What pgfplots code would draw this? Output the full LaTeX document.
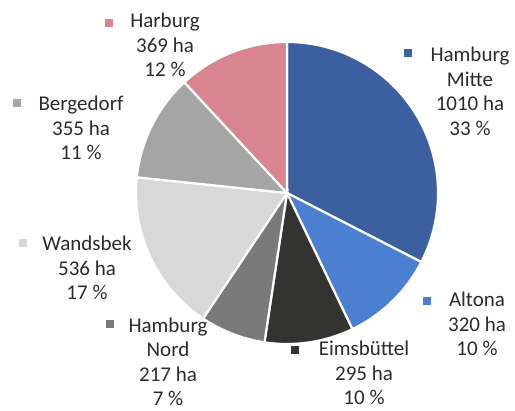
\documentclass[border=0pt]{standalone}
\usepackage{pgfplots}
\usepackage{pgfplotstable}
\pgfplotsset{compat=1.18}
\usepackage{fontspec}
\setmainfont{Carlito}
\definecolor{cMitte}{HTML}{3C5FA0}
\definecolor{cAltona}{HTML}{4A7FD2}
\definecolor{cEims}{HTML}{333331}
\definecolor{cNord}{HTML}{7A7A7A}
\definecolor{cWands}{HTML}{D8D8D8}
\definecolor{cBerg}{HTML}{A5A5A5}
\definecolor{cHarb}{HTML}{D8858F}
\definecolor{txt}{HTML}{2B2B2B}
\tikzset{lbl/.style={font=\fontsize{21bp}{24.5bp}\selectfont, text=txt, align=center, inner sep=0pt}}
\pgfplotstableread{
name value
Mitte 1010
Altona 320
Eimsbuettel 295
Nord 217
Wandsbek 536
Bergedorf 355
Harburg 369
}\datatable
\begin{document}
\begin{tikzpicture}
% cumulative angles from the data
\def\total{0}
\pgfplotsforeachungrouped \i in {0,...,6}{%
  \pgfplotstablegetelem{\i}{value}\of\datatable
  \pgfmathsetmacro\total{\total+\pgfplotsretval}}
\expandafter\xdef\csname ang0\endcsname{90}
\def\cur{90}
\pgfplotsforeachungrouped \i in {0,...,6}{%
  \pgfplotstablegetelem{\i}{value}\of\datatable
  \pgfmathsetmacro\frac{\pgfplotsretval/\total}
  \pgfmathsetmacro\cur{\cur-360*\frac}
  \pgfmathtruncatemacro\j{\i+1}
  \expandafter\xdef\csname ang\j\endcsname{\cur}}
\def\A#1{\csname ang#1\endcsname}
\def\R{151bp}
\begin{axis}[
  x=1bp, y=1bp,
  xmin=0, xmax=515, ymin=0, ymax=410,
  hide axis, clip=false,
]
\coordinate (ll) at (axis cs:0,0);
\coordinate (ur) at (axis cs:515,410);
\addplot[fill=cMitte, draw=white, line width=2.2bp] coordinates {(287,217)} -- ++(\A0:\R) arc[start angle=\A0, end angle=\A1, radius=\R] -- cycle;
\addplot[fill=cAltona, draw=white, line width=2.2bp] coordinates {(287,217)} -- ++(\A1:\R) arc[start angle=\A1, end angle=\A2, radius=\R] -- cycle;
\addplot[fill=cEims, draw=white, line width=2.2bp] coordinates {(287,217)} -- ++(\A2:\R) arc[start angle=\A2, end angle=\A3, radius=\R] -- cycle;
\addplot[fill=cNord, draw=white, line width=2.2bp] coordinates {(287,217)} -- ++(\A3:\R) arc[start angle=\A3, end angle=\A4, radius=\R] -- cycle;
\addplot[fill=cWands, draw=white, line width=2.2bp] coordinates {(287,217)} -- ++(\A4:\R) arc[start angle=\A4, end angle=\A5, radius=\R] -- cycle;
\addplot[fill=cBerg, draw=white, line width=2.2bp] coordinates {(287,217)} -- ++(\A5:\R) arc[start angle=\A5, end angle=\A6, radius=\R] -- cycle;
\addplot[fill=cHarb, draw=white, line width=2.2bp] coordinates {(287,217)} -- ++(\A6:\R) arc[start angle=\A6, end angle=\A7, radius=\R] -- cycle;
% legend keys
\addplot[only marks, mark=square*, mark size=3.6bp, color=cMitte] coordinates {(408,357)};
\addplot[only marks, mark=square*, mark size=3.6bp, color=cAltona] coordinates {(427,109)};
\addplot[only marks, mark=square*, mark size=3.6bp, color=cEims] coordinates {(295,60)};
\addplot[only marks, mark=square*, mark size=3.6bp, color=cNord] coordinates {(110,86)};
\addplot[only marks, mark=square*, mark size=3.6bp, color=cWands] coordinates {(23,167)};
\addplot[only marks, mark=square*, mark size=3.6bp, color=cBerg] coordinates {(17,307)};
\addplot[only marks, mark=square*, mark size=3.6bp, color=cHarb] coordinates {(109,387)};
% labels
\node[lbl] at (axis cs:470,318.5) {Hamburg\\Mitte\\1010 ha\\33 \%};
\node[lbl] at (axis cs:477,86) {Altona\\320 ha\\10 \%};
\node[lbl] at (axis cs:364,37) {Eimsbüttel\\295 ha\\10 \%};
\node[lbl] at (axis cs:168,48) {Hamburg\\Nord\\217 ha\\7 \%};
\node[lbl] at (axis cs:87,142) {Wandsbek\\536 ha\\17 \%};
\node[lbl] at (axis cs:81,282) {Bergedorf\\355 ha\\11 \%};
\node[lbl] at (axis cs:165,365) {Harburg\\369 ha\\12 \%};
\end{axis}
\pgfresetboundingbox
\useasboundingbox (ll) rectangle (ur);
\end{tikzpicture}
\end{document}
